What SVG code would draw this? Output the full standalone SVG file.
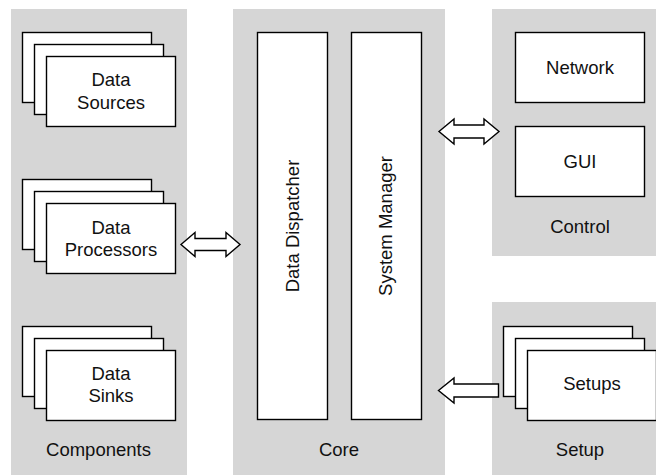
<svg xmlns="http://www.w3.org/2000/svg" width="656" height="475" viewBox="0 0 656 475">
  <style>
    .panel { fill: #d6d6d6; stroke: none; }
    .box { fill: #ffffff; stroke: #000000; stroke-width: 1.4; }
    .arrow { fill: #ffffff; stroke: #000000; stroke-width: 1.4; stroke-linejoin: miter; }
    text { font-family: "Liberation Sans", Arial, sans-serif; font-size: 18.5px; fill: #111111; text-anchor: middle; }
  </style>

  <rect width="656" height="475" fill="#ffffff"/>

  <!-- Components panel -->
  <g id="components">
    <rect class="panel" x="11" y="9" width="176" height="466"/>
    <text x="98.5" y="455.5">Components</text>
  </g>
  <g id="data-sources">
    <rect class="box" x="22.5" y="32.5" width="129" height="70"/>
    <rect class="box" x="34.5" y="44.5" width="129" height="70"/>
    <rect class="box" x="46.5" y="56.5" width="129" height="70"/>
    <text x="111" y="86">Data</text>
    <text x="111" y="108.5">Sources</text>
  </g>
  <g id="data-processors">
    <rect class="box" x="22.5" y="179.5" width="129" height="70"/>
    <rect class="box" x="34.5" y="191.5" width="129" height="70"/>
    <rect class="box" x="46.5" y="203.5" width="129" height="70"/>
    <text x="111" y="233.5">Data</text>
    <text x="111" y="256">Processors</text>
  </g>
  <g id="data-sinks">
    <rect class="box" x="22.5" y="326.5" width="129" height="70"/>
    <rect class="box" x="34.5" y="338.5" width="129" height="70"/>
    <rect class="box" x="46.5" y="350.5" width="129" height="70"/>
    <text x="111" y="379.5">Data</text>
    <text x="111" y="402">Sinks</text>
  </g>

  <!-- Core panel -->
  <g id="core">
    <rect class="panel" x="233" y="9" width="212" height="466"/>
    <text x="339" y="455.5">Core</text>
  </g>
  <g id="data-dispatcher">
    <rect class="box" x="257.5" y="32.5" width="70" height="387"/>
    <text transform="translate(298.5,226) rotate(-90)">Data Dispatcher</text>
  </g>
  <g id="system-manager">
    <rect class="box" x="351.5" y="32.5" width="70" height="387"/>
    <text transform="translate(392,226) rotate(-90)">System Manager</text>
  </g>

  <!-- Control panel -->
  <g id="control">
    <rect class="panel" x="492" y="9" width="176" height="247"/>
    <text x="580" y="232.5">Control</text>
  </g>
  <g id="network">
    <rect class="box" x="515.5" y="32.5" width="129" height="70"/>
    <text x="580" y="73.5">Network</text>
  </g>
  <g id="gui">
    <rect class="box" x="515.5" y="126.5" width="129" height="70"/>
    <text x="580" y="167.5">GUI</text>
  </g>

  <!-- Setup panel -->
  <g id="setup">
    <rect class="panel" x="492" y="302" width="176" height="173"/>
    <text x="580" y="455.5">Setup</text>
  </g>
  <g id="setups">
    <rect class="box" x="503.5" y="326.5" width="129" height="70"/>
    <rect class="box" x="515.5" y="338.5" width="129" height="70"/>
    <rect class="box" x="527.5" y="350.5" width="129" height="70"/>
    <text x="592" y="389.5">Setups</text>
  </g>

  <!-- Connectors -->
  <g id="connectors">
    <polygon class="arrow" points="181,244.5 195,232.5 195,238.5 226,238.5 226,232.5 240,244.5 226,256.5 226,250.5 195,250.5 195,256.5"/>
    <polygon class="arrow" points="439,131.5 454,119 454,125 484,125 484,119 499,131.5 484,144 484,138 454,138 454,144"/>
    <polygon class="arrow" points="438.5,390.5 454,378 454,384 498.5,384 498.5,397 454,397 454,403"/>
  </g>
</svg>
